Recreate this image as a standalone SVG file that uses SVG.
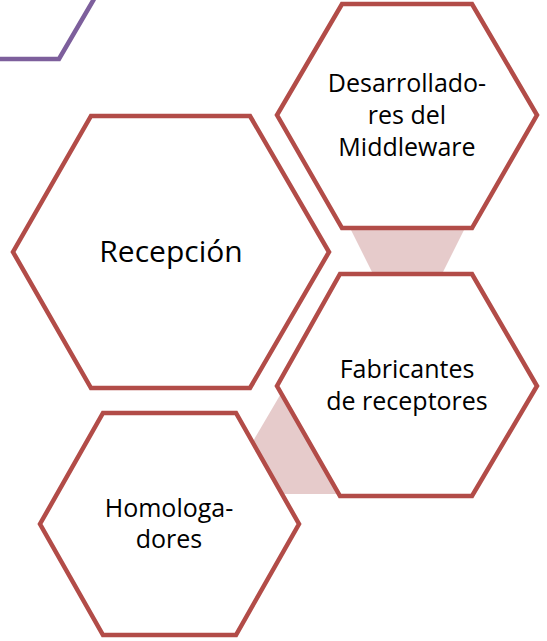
<svg xmlns="http://www.w3.org/2000/svg" width="547" height="641" viewBox="0 0 547 641">
<style>
.hex{fill:#ffffff;stroke:#b24c48;stroke-width:4.5;stroke-linejoin:miter}
.link{fill:#e6cbcb;stroke:none}
.t{font-family:"Open Sans","Noto Sans",sans-serif;font-size:25px;fill:#000;text-anchor:middle}
.big{font-size:30px}
</style>
<rect width="547" height="641" fill="#ffffff"/>
<polyline points="0,59 59,59 94,-1" fill="none" stroke="#7d5f9c" stroke-width="4.5"/>
<g id="connectors">
<polygon class="link" points="350,228 465,228 442,274 373,274"/>
<polygon class="link" points="252,443 286,385 350,494 282,494"/>
</g>
<g id="recepcion">
<polygon class="hex" points="91,116 250,116 329,252 250,388 91,388 13,252"/>
<text class="t big" x="171" y="262">Recepción</text>
</g>
<g id="desarrolladores">
<polygon class="hex" points="342,4 472,4 537,115 472,228 342,228 277,115"/>
<text class="t" x="407" y="92">Desarrollado-</text>
<text class="t" x="407" y="124">res del</text>
<text class="t" x="407" y="156">Middleware</text>
</g>
<g id="fabricantes">
<polygon class="hex" points="340,274 472,274 537,386 472,496 340,496 277,386"/>
<text class="t" x="407" y="378">Fabricantes</text>
<text class="t" x="407" y="410">de receptores</text>
</g>
<g id="homologadores">
<polygon class="hex" points="103,413 236,413 299,524 236,635 103,635 40,524"/>
<text class="t" x="169" y="517">Homologa-</text>
<text class="t" x="169" y="548">dores</text>
</g>
</svg>
